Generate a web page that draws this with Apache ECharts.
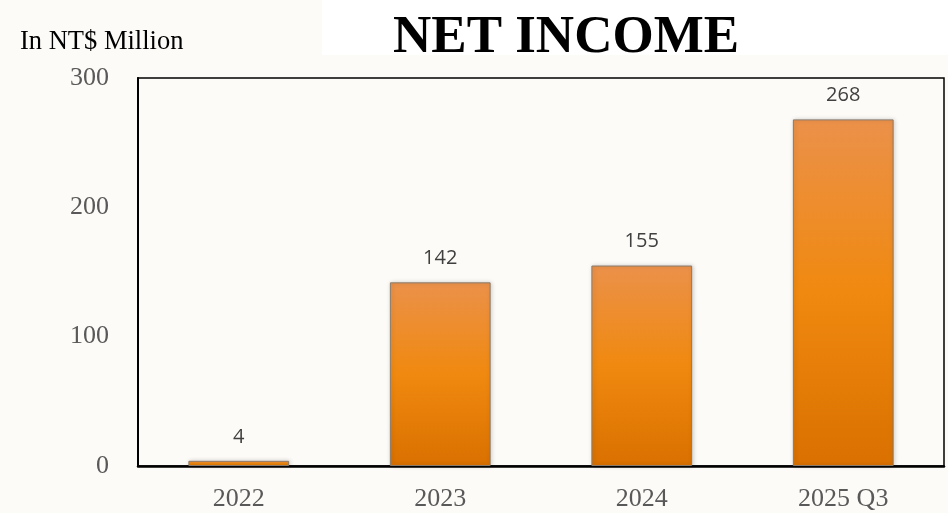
<!DOCTYPE html>
<html>
<head>
<meta charset="utf-8">
<script src="https://cdn.jsdelivr.net/npm/echarts@6/dist/echarts.min.js"></script>
<style>
  html, body { margin: 0; padding: 0; background: #fdfbf7; }
  #chart { width: 948px; height: 513px; }
</style>
</head>
<body>
<div id="chart"></div>
<script>
const categories = ['2022', '2023', '2024', '2025 Q3'];
const netIncome = [4, 142, 155, 268];
const yTicks = [0, 100, 200, 300];

const myChart = echarts.init(document.getElementById('chart'));

const option = {
  backgroundColor: '#fdfbf7',
  animation: false,
  graphic: [
    // white patch behind the title
    { type: 'rect', left: 322, top: 0, shape: { width: 626, height: 55 }, style: { fill: '#ffffff' }, z: -1 }
  ],
  title: [
    {
      text: 'NET INCOME',
      left: 561, top: 7, textAlign: 'center',
      textStyle: { fontFamily: 'Liberation Serif', fontWeight: 'bold', fontSize: 53, color: '#000' }
    },
    {
      text: 'In NT$ Million',
      left: 15, top: 24,
      textStyle: { fontFamily: 'Liberation Serif', fontWeight: 'normal', fontSize: 26.5, color: '#000' }
    }
  ],
  grid: {
    left: 138, right: 4, top: 78, bottom: 47,
    show: true, borderColor: '#000', borderWidth: 1.5, backgroundColor: 'transparent'
  },
  xAxis: {
    type: 'category',
    data: categories,
    axisLine: { show: true, lineStyle: { color: '#000', width: 2.5 } },
    axisTick: { show: false },
    axisLabel: { fontFamily: 'Liberation Serif', fontSize: 26, color: '#595959', margin: 20 }
  },
  yAxis: {
    type: 'value',
    min: yTicks[0], max: yTicks[yTicks.length - 1], interval: 100,
    axisLine: { show: true, lineStyle: { color: '#000', width: 2 } },
    axisTick: { show: false },
    splitLine: { show: false },
    axisLabel: { fontFamily: 'Liberation Serif', fontSize: 26, color: '#595959', margin: 29 }
  },
  series: [
    {
      type: 'bar',
      data: netIncome,
      barWidth: '50%',
      itemStyle: {
        color: new echarts.graphic.LinearGradient(0, 0, 0, 1, [
          { offset: 0, color: '#eb914a' },
          { offset: 0.5, color: '#f0890f' },
          { offset: 1, color: '#d97000' }
        ]),
        borderColor: '#8a7a6a',
        borderWidth: 1,
        shadowColor: 'rgba(0,0,0,0.18)',
        shadowBlur: 4,
        shadowOffsetX: 1
      },
      label: {
        show: true,
        position: 'top',
        distance: 14,
        fontFamily: 'Open Sans',
        fontSize: 20,
        color: '#404040'
      }
    }
  ]
};

myChart.setOption(option);
</script>
</body>
</html>
